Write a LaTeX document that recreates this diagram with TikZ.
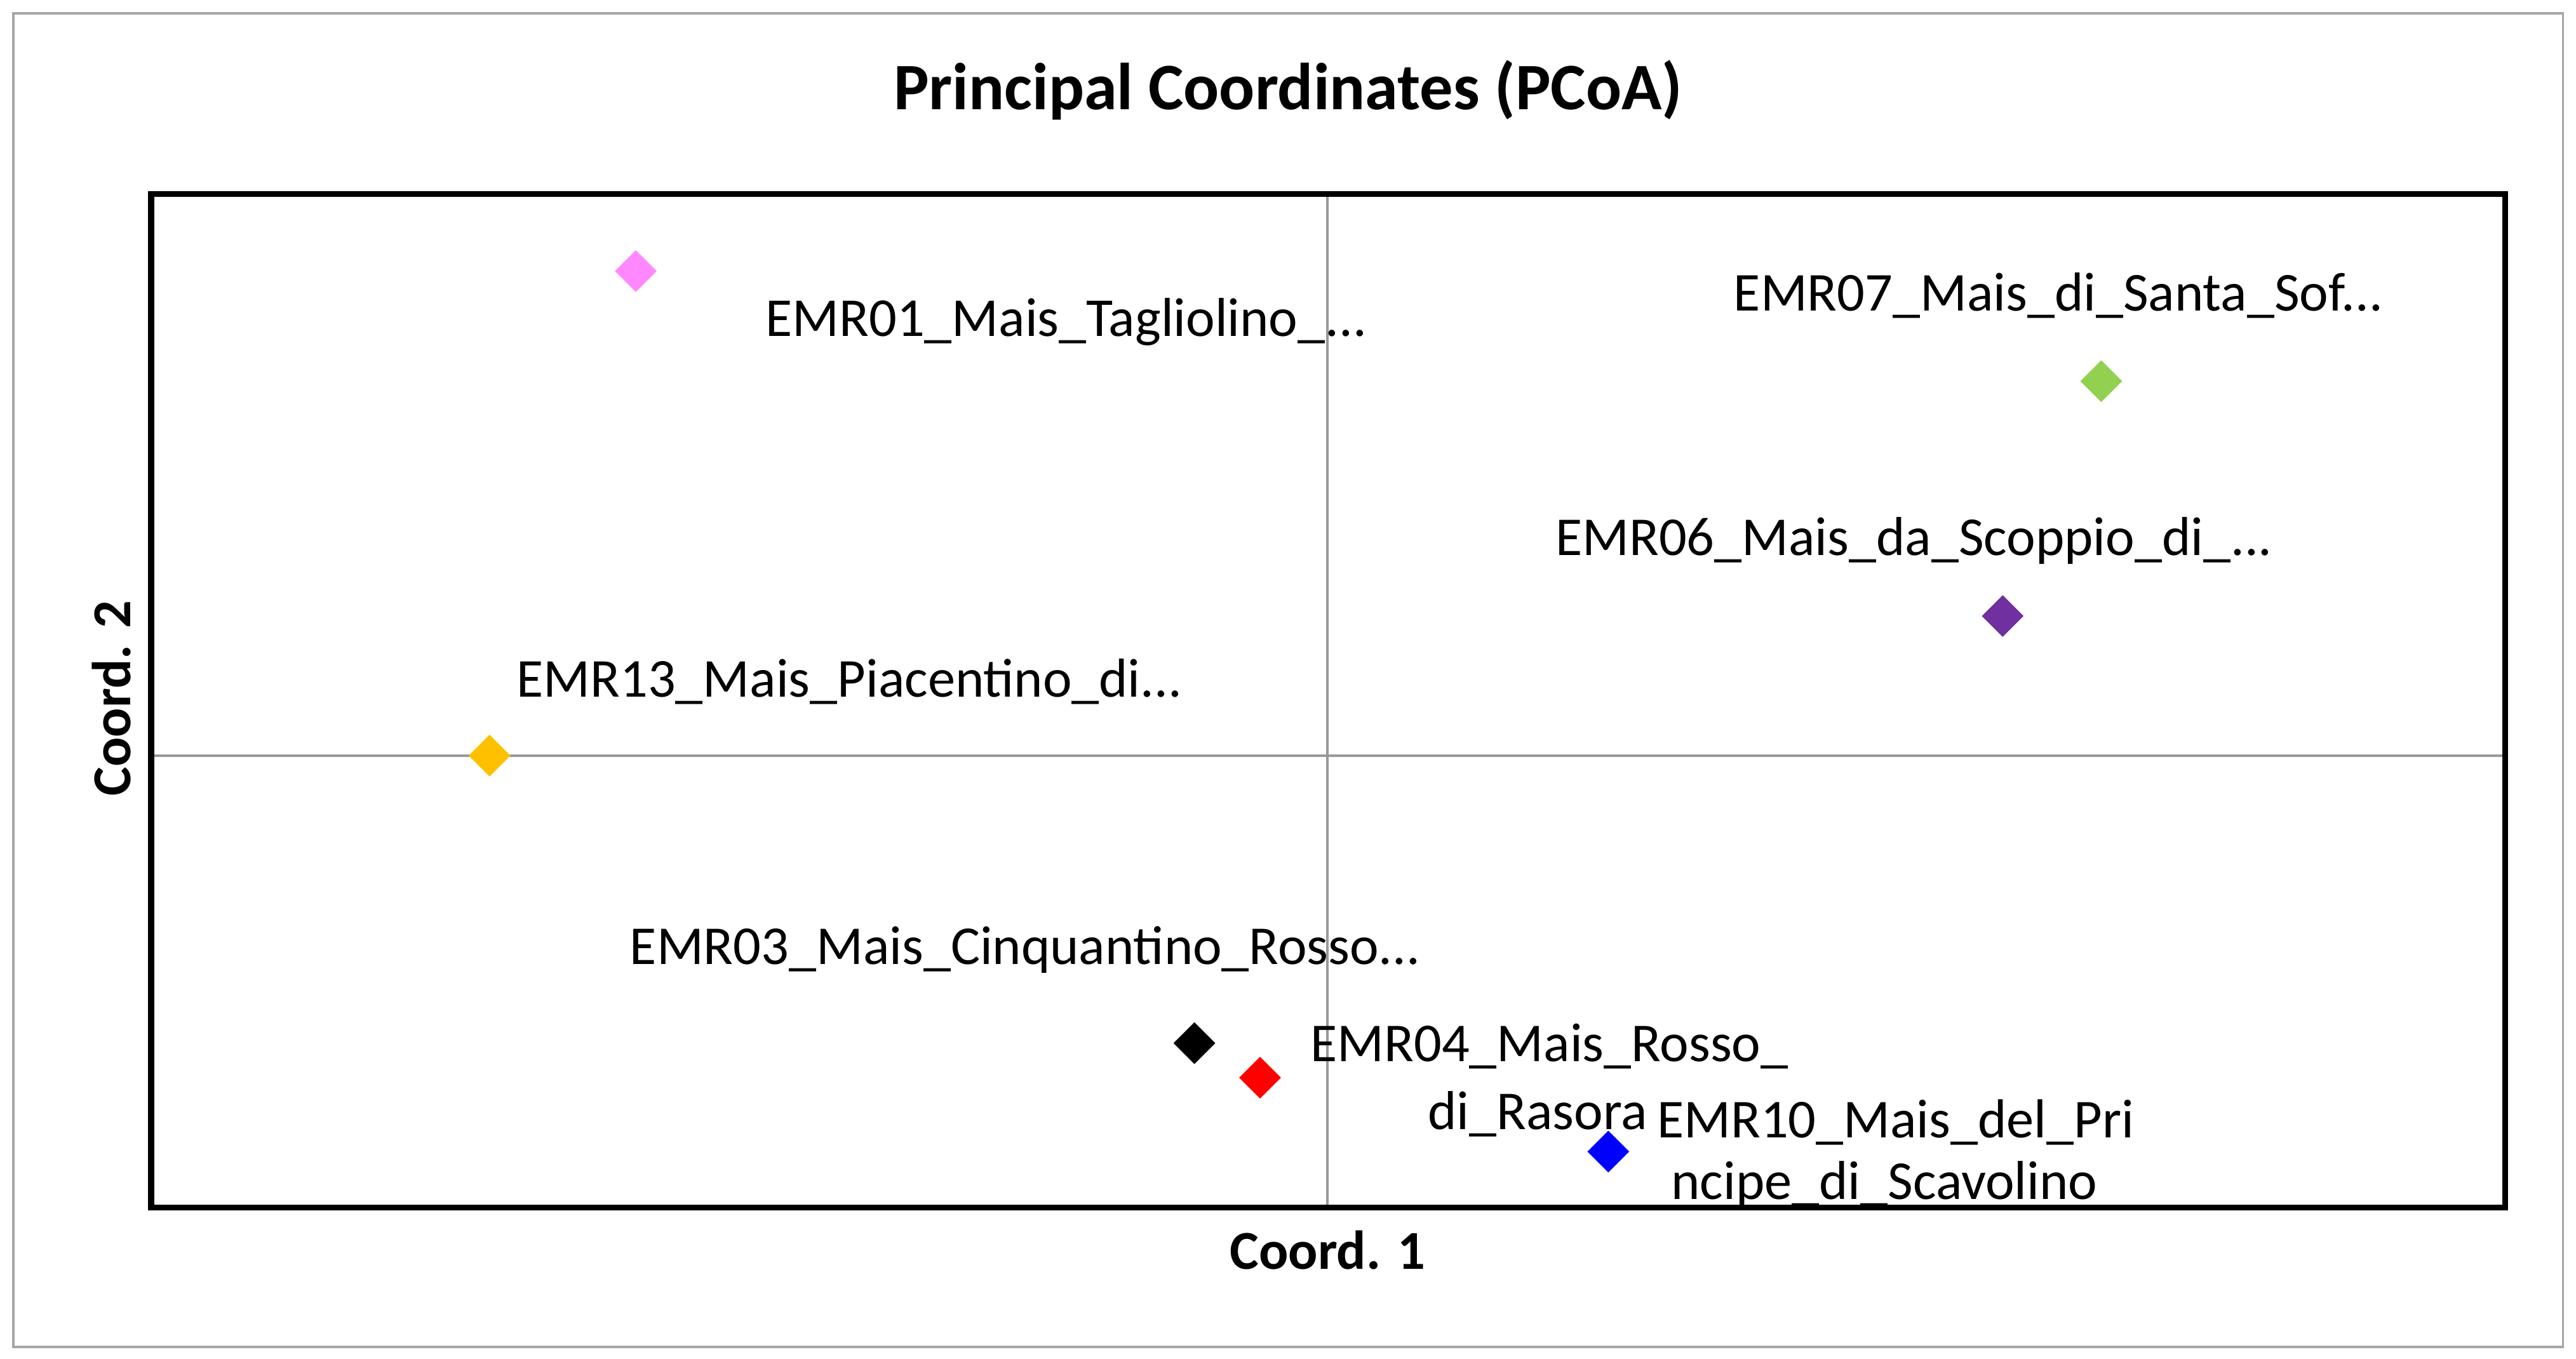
\documentclass[tikz,border=0pt]{standalone}
\usepackage{fontspec}
\setmainfont{Carlito}
\usetikzlibrary{shapes.geometric}
\begin{document}
\begin{tikzpicture}[x=1cm,y=-1cm]
\tikzset{pt/.style={diamond,draw=none,inner sep=0pt,minimum size=0.26cm},
lab/.style={font=\fontsize{9.5}{11}\selectfont,inner sep=0pt}}
\useasboundingbox (0,0) rectangle (15.68,8.27);
\draw[gray!70,line width=0.4pt] (0.08,0.08) rectangle (15.60,8.20);
\node[font=\fontsize{11.5}{13}\bfseries\selectfont] (title) at (7.84,0.55) {Principal Coordinates (PCoA)};
% axes
\draw[gray!80] (8.08,1.18) -- (8.08,7.35);
\draw[gray!80] (0.92,4.60) -- (15.25,4.60);
\draw[line width=1pt] (0.92,1.18) rectangle (15.25,7.35);
\node[font=\fontsize{9.5}{11}\bfseries\selectfont] (xl) at (8.08,7.61) {Coord. 1};
\node[font=\fontsize{9.5}{11}\bfseries\selectfont,rotate=90] (yl) at (0.68,4.25) {Coord. 2};
% points
\node[pt,fill={rgb,255:red,255;green,136;blue,255}] (p01) at (3.87,1.65) {};
\node[pt,fill={rgb,255:red,146;green,208;blue,80}] (p07) at (12.79,2.32) {};
\node[pt,fill={rgb,255:red,112;green,48;blue,160}] (p06) at (12.19,3.75) {};
\node[pt,fill={rgb,255:red,255;green,192;blue,0}] (p13) at (2.98,4.60) {};
\node[pt,fill=black] (p03) at (7.27,6.35) {};
\node[pt,fill=red] (p04) at (7.67,6.56) {};
\node[pt,fill=blue] (p10) at (9.79,7.01) {};
% labels
\node[lab] (l01) at (6.49,1.96) {EMR01\_Mais\_Tagliolino\_...};
\node[lab] (l07) at (12.53,1.80) {EMR07\_Mais\_di\_Santa\_Sof...};
\node[lab] (l06) at (11.65,3.29) {EMR06\_Mais\_da\_Scoppio\_di\_...};
\node[lab] (l13) at (5.17,4.15) {EMR13\_Mais\_Piacentino\_di...};
\node[lab] (l03) at (6.24,5.78) {EMR03\_Mais\_Cinquantino\_Rosso...};
\node[lab,anchor=west] (l04) at (7.97,6.37) {EMR04\_Mais\_Rosso\_};
\node[lab] (l04b) at (9.36,6.78) {di\_Rasora};
\node[lab,anchor=west] (l10) at (10.08,6.83) {EMR10\_Mais\_del\_Pri};
\node[lab] (l10b) at (11.47,7.21) {ncipe\_di\_Scavolino};
\end{tikzpicture}
\end{document}
